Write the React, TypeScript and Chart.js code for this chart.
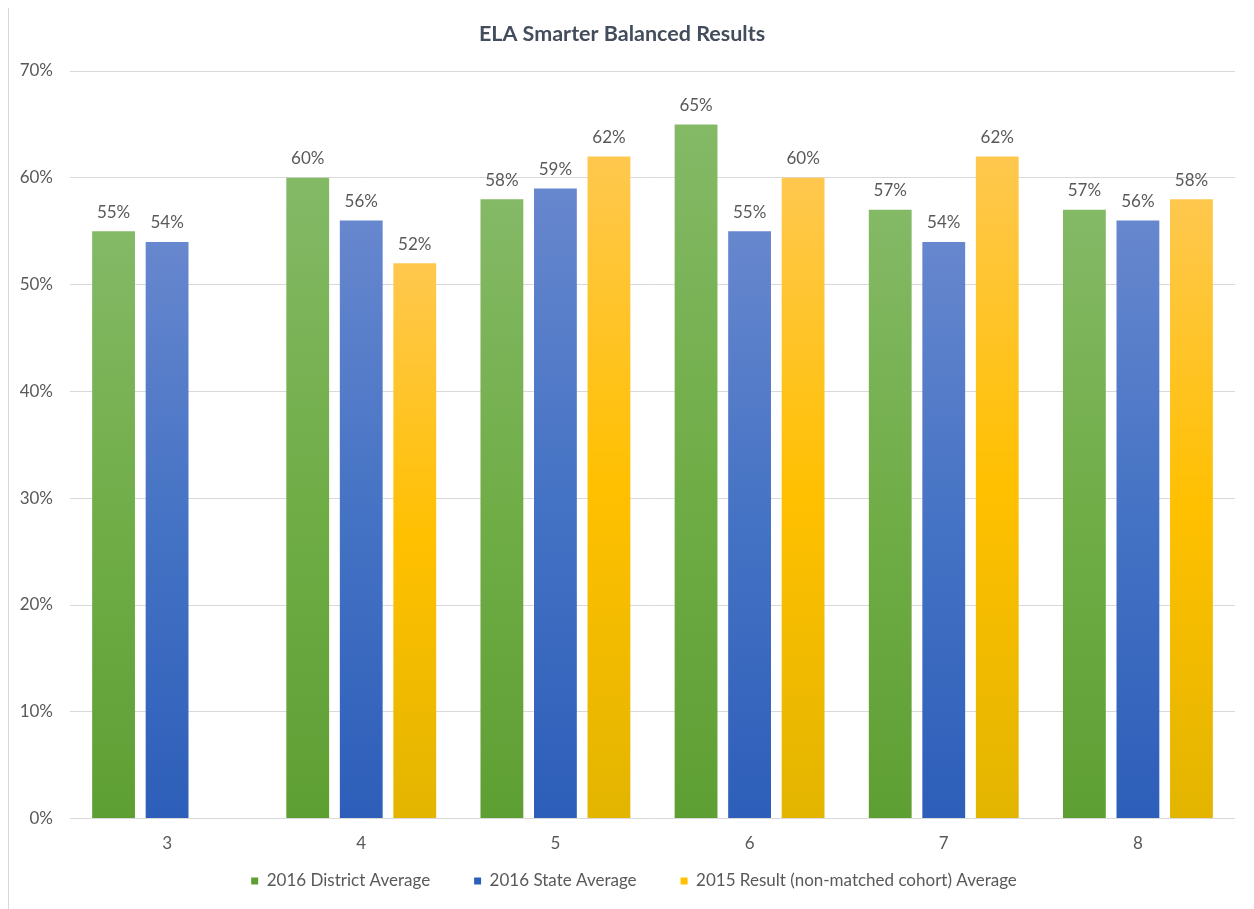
import React, { useEffect, useRef } from "react";
import { Chart, registerables } from "chart.js";

Chart.register(...registerables);

const categories = ["3", "4", "5", "6", "7", "8"];
const districtAvg2016 = [55, 60, 58, 65, 57, 57];
const stateAvg2016 = [54, 56, 59, 55, 54, 56];
const result2015 = [null, 52, 62, 60, 62, 58];
const seriesNames = [
  "2016 District Average",
  "2016 State Average",
  "2015 Result (non-matched cohort) Average",
];
const yTicksMax = 70;
const yTickStep = 10;

const FONT = "Lato, 'Liberation Sans', sans-serif";
const TEXT = "#595959";

function gradientFill(base: string, top: string, bottom: string) {
  return (ctx: any) => {
    if (ctx.type !== "data") return base;
    const chart = ctx.chart;
    const { chartArea, scales } = chart;
    const v = ctx.raw;
    if (!chartArea || v == null || !scales.y) return base;
    const yTop = scales.y.getPixelForValue(v);
    const yBot = scales.y.getPixelForValue(0);
    if (!isFinite(yTop) || !isFinite(yBot) || yBot - yTop < 1) return base;
    const g = chart.ctx.createLinearGradient(0, yTop, 0, yBot);
    g.addColorStop(0, top);
    g.addColorStop(0.5, base);
    g.addColorStop(1, bottom);
    return g;
  };
}

const valueLabels = {
  id: "valueLabels",
  afterDatasetsDraw(chart: any) {
    const ctx = chart.ctx;
    ctx.save();
    ctx.font = `17px ${FONT}`;
    ctx.fillStyle = TEXT;
    ctx.textAlign = "center";
    ctx.textBaseline = "middle";
    chart.data.datasets.forEach((ds: any, i: number) => {
      const meta = chart.getDatasetMeta(i);
      meta.data.forEach((el: any, j: number) => {
        const v = ds.data[j];
        if (v == null) return;
        ctx.fillText(`${v}%`, el.x, el.y - 19);
      });
    });
    ctx.restore();
  },
};

const legendPlace = {
  id: "legendPlace",
  afterLayout(chart: any) {
    const lg = chart.legend;
    if (lg) {
      const h = lg.bottom - lg.top;
      lg.left += 12;
      lg.right += 12;
      lg.top = 821.5;
      lg.bottom = lg.top + h;
    }
  },
};

export default function App() {
  const ref = useRef<HTMLCanvasElement | null>(null);

  useEffect(() => {
    document.body.style.overflow = "hidden";
    const canvas = ref.current;
    if (!canvas) return;
    const chart = new Chart(canvas, {
      type: "bar",
      data: {
        labels: categories,
        datasets: [
          {
            label: seriesNames[0],
            data: districtAvg2016,
            backgroundColor: gradientFill("#70AD47", "#84B966", "#5E9F33") as any,
            borderWidth: 0,
          },
          {
            label: seriesNames[1],
            data: stateAvg2016,
            backgroundColor: gradientFill("#4472C4", "#6787CE", "#2D5EB9") as any,
            borderWidth: 0,
          },
          {
            label: seriesNames[2],
            data: result2015 as any,
            backgroundColor: gradientFill("#FFC000", "#FFC84E", "#E3B500") as any,
            borderWidth: 0,
          },
        ],
      },
      options: {
        animation: false,
        responsive: true,
        maintainAspectRatio: false,
        layout: { padding: { left: 0, right: 18, top: 0, bottom: 0 } },
        datasets: {
          bar: { categoryPercentage: 0.827, barPercentage: 0.8 },
        },
        scales: {
          x: {
            grid: { display: false, drawTicks: false },
            border: { display: false },
            ticks: {
              color: TEXT,
              font: { family: FONT, size: 17 },
              padding: 15,
            },
          },
          y: {
            min: 0,
            max: yTicksMax,
            grid: { color: "#D9D9D9", lineWidth: 1, drawTicks: false },
            border: { display: false },
            ticks: {
              stepSize: yTickStep,
              color: TEXT,
              font: { family: FONT, size: 17 },
              padding: 17,
              callback: (v: any) => `${v}%`,
            },
            afterFit(scale: any) {
              scale.width = 61;
            },
          },
        },
        plugins: {
          title: {
            display: true,
            text: "ELA Smarter Balanced Results",
            color: "#434D5C",
            font: { family: FONT, size: 21.5, weight: "bold" },
            padding: { top: 14.1, bottom: 24.1 },
          },
          legend: {
            position: "bottom",
            labels: {
              boxWidth: 7,
              boxHeight: 7,
              padding: 44,
              color: TEXT,
              font: { family: FONT, size: 17 },
            },
          },
          tooltip: { enabled: false },
        },
      },
      plugins: [valueLabels, legendPlace],
    });
    return () => chart.destroy();
  }, []);

  return (
    <div
      style={{
        position: "relative",
        marginTop: -2,
        width: 1246,
        height: 905,
        boxSizing: "border-box",
        border: "1px solid #D9D9D9",
        overflow: "hidden",
        background: "#fff",
      }}
    >
      <div style={{ position: "relative", width: 1244, height: 933 }}>
        <canvas ref={ref} />
      </div>
    </div>
  );
}
